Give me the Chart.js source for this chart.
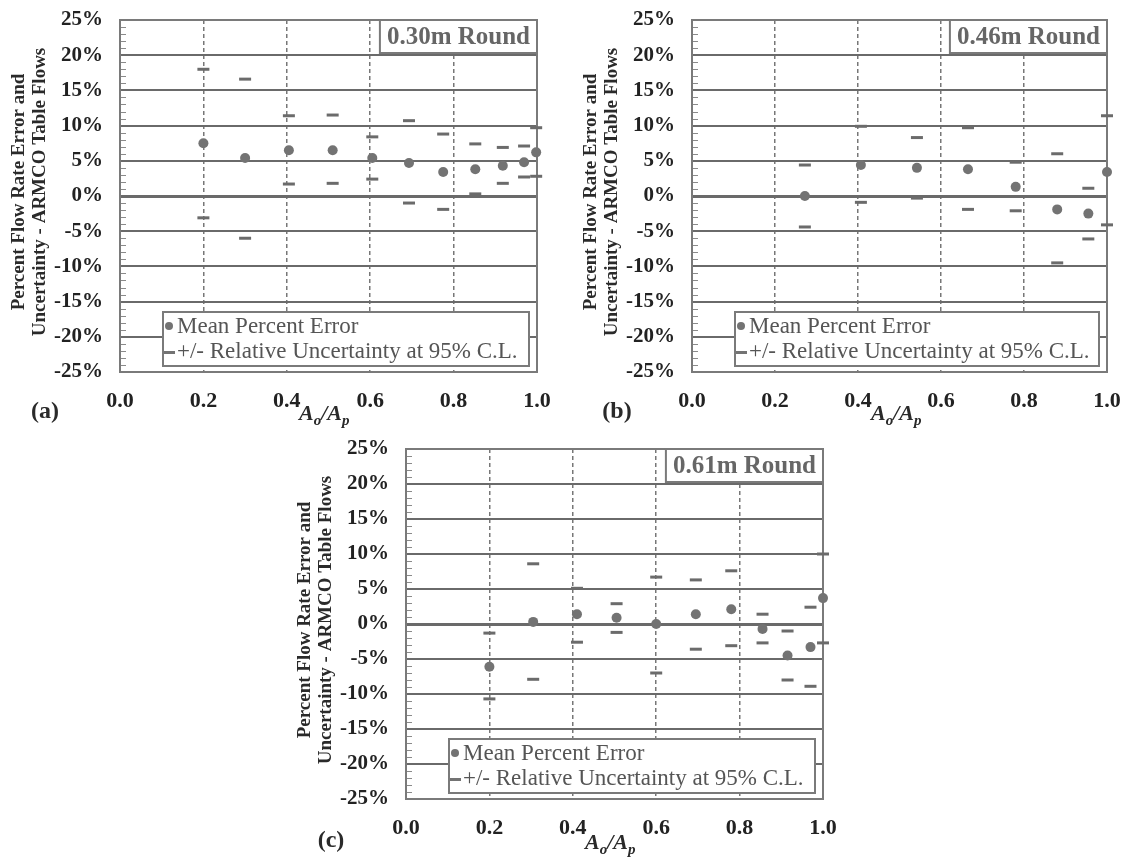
<!DOCTYPE html>
<html>
<head>
<meta charset="utf-8">
<script src="https://cdn.jsdelivr.net/npm/chart.js@4.4.0/dist/chart.umd.min.js"></script>
<style>
  body { margin: 0; background: #fff; }
  #wrap { position: relative; width: 1127px; height: 859px; overflow: hidden; }
  canvas { position: absolute; }
</style>
</head>
<body>
<div id="wrap">
  <canvas id="chartA" width="560" height="430" style="left:0px;top:0px"></canvas>
  <canvas id="chartB" width="560" height="430" style="left:572px;top:0px"></canvas>
  <canvas id="chartC" width="560" height="430" style="left:286px;top:429px"></canvas>
</div>
<script>
// A_o/A_p ratios and percent errors
const aRatio = [0.2, 0.3, 0.405, 0.51, 0.605, 0.693, 0.775, 0.852, 0.918, 0.969, 0.998];
const aMean  = [7.5, 5.4, 6.5, 6.5, 5.4, 4.7, 3.4, 3.8, 4.3, 4.8, 6.2];
const aUpper = [18.0, 16.6, 11.4, 11.5, 8.4, 10.7, 8.8, 7.4, 6.9, 7.1, 9.7];
const aLower = [-3.1, -6.0, 1.7, 1.8, 2.4, -1.0, -1.9, 0.3, 1.8, 2.7, 2.8];

const bRatio = [0.272, 0.407, 0.542, 0.665, 0.78, 0.88, 0.955, 1.0];
const bMean  = [0.0, 4.4, 4.0, 3.8, 1.3, -1.9, -2.5, 3.4];
const bUpper = [4.4, 9.9, 8.3, 9.7, 4.8, 6.0, 1.1, 11.4];
const bLower = [-4.4, -0.9, -0.3, -1.9, -2.1, -9.5, -6.1, -4.1];

const cRatio = [0.2, 0.305, 0.41, 0.505, 0.6, 0.695, 0.78, 0.855, 0.915, 0.97, 1.0];
const cMean  = [-6.1, 0.3, 1.4, 0.9, 0.0, 1.4, 2.1, -0.7, -4.5, -3.3, 3.7];
const cUpper = [-1.3, 8.6, 5.1, 2.9, 6.7, 6.3, 7.6, 1.4, -1.0, 2.4, 10.0];
const cLower = [-10.7, -7.9, -2.6, -1.2, -7.0, -3.6, -3.1, -2.7, -8.0, -8.9, -2.7];

const xTicks = [0, 0.2, 0.4, 0.6, 0.8, 1.0];
const yTitle = ['Percent Flow Rate Error and', 'Uncertainty - ARMCO Table Flows'];
const legendText = ['Mean Percent Error', '+/- Relative Uncertainty at 95% C.L.'];

const serif = "'Liberation Serif', 'Times New Roman', serif";
const gridGray = '#6a6a6a';

function toPoints(xs, ys) {
    return xs.map((v, i) => ({ x: v, y: ys[i] }));
}

// frame, minor ticks, boxes and axis titles
const panelDeco = {
    id: 'panelDeco',
    beforeDatasetsDraw(chart) {
        const { ctx, chartArea: a, scales } = chart;
        ctx.save();
        ctx.strokeStyle = '#8a8a8a';
        ctx.lineWidth = 1;
        for (let v = -24; v <= 24; v++) {
            if (v % 5 === 0) continue;
            const y = Math.round(scales.y.getPixelForValue(v)) + 0.5;
            ctx.beginPath();
            ctx.moveTo(a.left, y);
            ctx.lineTo(a.left + 6, y);
            ctx.stroke();
        }
        ctx.strokeStyle = '#7a7a7a';
        ctx.lineWidth = 2;
        ctx.strokeRect(a.left, a.top, a.right - a.left, a.bottom - a.top);
        ctx.restore();
    },
    afterDraw(chart, args, opts) {
        const { ctx, chartArea: a } = chart;
        ctx.save();

        // title box top right
        ctx.font = 'bold 25px ' + serif;
        const tw = ctx.measureText(opts.title).width;
        const bx = a.right - tw - 14;
        ctx.fillStyle = '#fff';
        ctx.fillRect(bx, a.top, a.right - bx, 33);
        ctx.strokeStyle = '#7a7a7a';
        ctx.lineWidth = 2;
        ctx.strokeRect(bx, a.top, a.right - bx, 33);
        ctx.fillStyle = '#666';
        ctx.textBaseline = 'middle';
        ctx.textAlign = 'left';
        ctx.fillText(opts.title, bx + 7, a.top + 18);

        // legend box
        const lx = a.left + 43, rx = a.right - 8;
        const by = a.bottom - 6, ty = by - 54;
        ctx.fillStyle = '#fff';
        ctx.fillRect(lx, ty, rx - lx, by - ty);
        ctx.strokeStyle = '#7a7a7a';
        ctx.strokeRect(lx, ty, rx - lx, by - ty);
        ctx.fillStyle = '#737373';
        ctx.beginPath();
        ctx.arc(lx + 6, ty + 14, 4, 0, Math.PI * 2);
        ctx.fill();
        ctx.fillRect(lx + 1, ty + 39, 11, 3);
        ctx.font = '23px ' + serif;
        ctx.fillStyle = '#555';
        ctx.fillText(legendText[0], lx + 14, ty + 15);
        ctx.fillText(legendText[1], lx + 14, ty + 40);

        // y axis title
        ctx.fillStyle = '#2a2a2a';
        ctx.font = 'bold 19px ' + serif;
        ctx.textAlign = 'center';
        const cy = (a.top + a.bottom) / 2 - 4;
        ctx.translate(a.left - 101, cy);
        ctx.rotate(-Math.PI / 2);
        ctx.fillText(yTitle[0], 0, 0);
        ctx.fillText(yTitle[1], 0, 21);
        ctx.setTransform(1, 0, 0, 1, 0, 0);

        // x axis title A_o/A_p
        ctx.textAlign = 'left';
        ctx.textBaseline = 'alphabetic';
        let x = a.left + 179;
        const base = a.top + 400;
        const big = 'italic bold 22px ' + serif, small = 'italic bold 15px ' + serif;
        [['A', big, 0], ['o', small, 5], ['/', big, 0], ['A', big, 0], ['p', small, 5]].forEach(([t, f, dy]) => {
            ctx.font = f;
            ctx.fillText(t, x, base + dy);
            x += ctx.measureText(t).width;
        });

        // panel letter
        ctx.font = 'bold 24px ' + serif;
        ctx.textAlign = 'center';
        ctx.textBaseline = 'middle';
        ctx.fillText(opts.label, a.left - 75, a.top + 392);
        ctx.restore();
    }
};

function buildPanel(id, p) {
    const dash = { pointStyle: 'line', pointRadius: 6, borderColor: '#6b6b6b', borderWidth: 3, clip: false };
    return new Chart(document.getElementById(id), {
        type: 'scatter',
        data: {
            datasets: [
                { data: toPoints(p.x, p.mean), pointStyle: 'circle', pointRadius: 5, backgroundColor: '#737373', borderWidth: 0, clip: false },
                Object.assign({ data: toPoints(p.x, p.upper) }, dash),
                Object.assign({ data: toPoints(p.x, p.lower) }, dash)
            ]
        },
        options: {
            responsive: false,
            animation: false,
            events: [],
            layout: { padding: { left: 0, top: 20, right: 560 - p.right, bottom: 0 } },
            scales: {
                x: {
                    type: 'linear', min: 0, max: 1,
                    afterFit: s => { s.height = 430 - p.bottom; s.paddingLeft = 0; s.paddingRight = 0; },
                    afterBuildTicks: s => { s.ticks = xTicks.map(v => ({ value: v })); },
                    ticks: { padding: 16, color: '#222', font: { family: serif, size: 22, weight: 'bold' }, callback: v => v.toFixed(1) },
                    grid: {
                        drawTicks: false, lineWidth: 1.5,
                        color: c => (c.tick && c.tick.value > 0.01 && c.tick.value < 0.99) ? '#777' : 'rgba(0,0,0,0)'
                    },
                    border: { display: false, dash: [4, 3] }
                },
                y: {
                    min: -25, max: 25,
                    afterFit: s => { s.width = 120; s.paddingTop = 0; s.paddingBottom = 0; },
                    ticks: { stepSize: 5, padding: 17, color: '#222', font: { family: serif, size: 21, weight: 'bold' }, callback: v => v + '%' },
                    grid: {
                        drawTicks: false,
                        color: c => (c.tick && Math.abs(c.tick.value) < 24) ? gridGray : 'rgba(0,0,0,0)',
                        lineWidth: c => (c.tick && c.tick.value === 0) ? 3 : 2
                    },
                    border: { display: false }
                }
            },
            plugins: {
                legend: { display: false },
                tooltip: { enabled: false },
                panelDeco: { title: p.title, label: p.label }
            }
        },
        plugins: [panelDeco]
    });
}

buildPanel('chartA', { x: aRatio, mean: aMean, upper: aUpper, lower: aLower, right: 537, bottom: 372, title: '0.30m Round', label: '(a)' });
buildPanel('chartB', { x: bRatio, mean: bMean, upper: bUpper, lower: bLower, right: 535, bottom: 372, title: '0.46m Round', label: '(b)' });
buildPanel('chartC', { x: cRatio, mean: cMean, upper: cUpper, lower: cLower, right: 537, bottom: 370, title: '0.61m Round', label: '(c)' });
</script>
</body>
</html>
